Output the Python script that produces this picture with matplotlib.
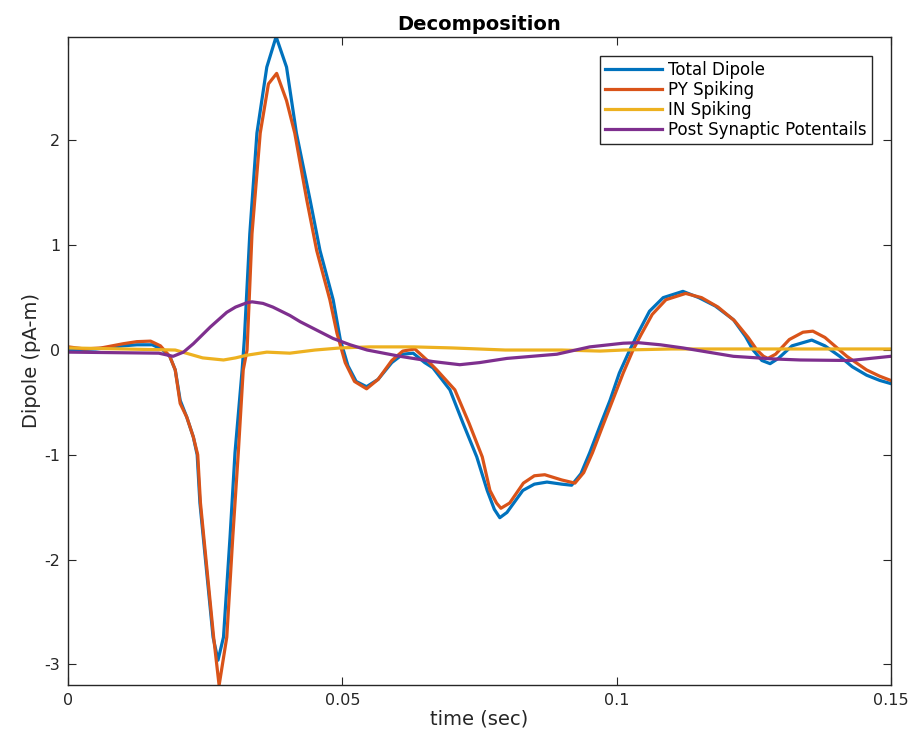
import matplotlib
matplotlib.use('Agg')
import matplotlib.pyplot as plt

# (time in sec, dipole in pA-m)
total_t = [0, 0.005, 0.010, 0.0125, 0.0153, 0.017, 0.0185, 0.0195, 0.0204, 0.0216, 0.0228,
           0.0235, 0.024, 0.0252, 0.0264, 0.0273, 0.0283, 0.0295, 0.0304, 0.0317, 0.0321,
           0.0331, 0.0344, 0.0362, 0.0379, 0.0398, 0.0416, 0.0441, 0.0459, 0.0483, 0.0496,
           0.0510, 0.0525, 0.0544, 0.0565, 0.0590, 0.0610, 0.0629, 0.0650, 0.0665, 0.0696,
           0.0720, 0.0745, 0.0764, 0.0777, 0.0787, 0.0800, 0.0829, 0.0850, 0.0873, 0.0900,
           0.0918, 0.0935, 0.0951, 0.0970, 0.0988, 0.1005, 0.1024, 0.1040, 0.1060, 0.1085,
           0.1121, 0.1150, 0.1180, 0.1213, 0.1235, 0.1249, 0.1265, 0.1280, 0.1295, 0.1320,
           0.1356, 0.1380, 0.1407, 0.1430, 0.1456, 0.1480, 0.150]
total_v = [0.0, 0.01, 0.04, 0.05, 0.05, 0.01, -0.06, -0.19, -0.48, -0.64, -0.83,
           -1.0, -1.46, -2.1, -2.74, -2.96, -2.74, -1.78, -0.98, -0.19, 0.1,
           1.11, 2.07, 2.70, 2.99, 2.70, 2.07, 1.43, 0.95, 0.48, 0.1,
           -0.15, -0.30, -0.35, -0.28, -0.12, -0.04, -0.03, -0.12, -0.17, -0.38,
           -0.70, -1.02, -1.34, -1.52, -1.60, -1.55, -1.34, -1.28, -1.26, -1.28,
           -1.29, -1.18, -0.98, -0.72, -0.48, -0.22, 0.0, 0.17, 0.37, 0.50,
           0.56, 0.50, 0.42, 0.29, 0.13, 0.0, -0.10, -0.13, -0.08, 0.04,
           0.095, 0.04, -0.06, -0.16, -0.24, -0.29, -0.32]

py_t = [0, 0.003, 0.006, 0.010, 0.0125, 0.015, 0.0168, 0.0185, 0.0195, 0.0204, 0.0216,
        0.0228, 0.0236, 0.0241, 0.0253, 0.0265, 0.0275, 0.0289, 0.0300, 0.0310, 0.0319,
        0.0326, 0.0335, 0.035, 0.0365, 0.038, 0.0398, 0.0413, 0.0435, 0.0453, 0.0477,
        0.049, 0.0505, 0.0522, 0.0544, 0.0565, 0.0590, 0.0610, 0.0632, 0.0655, 0.0672,
        0.0705, 0.0731, 0.0755, 0.0769, 0.0781, 0.0789, 0.0805, 0.0830, 0.0850, 0.0869,
        0.0900, 0.0924, 0.0940, 0.0956, 0.0975, 0.0995, 0.1012, 0.1030, 0.1045, 0.1065,
        0.1090, 0.1126, 0.1155, 0.1185, 0.1215, 0.1240, 0.1256, 0.1268, 0.1276, 0.1290,
        0.1315, 0.1340, 0.1358, 0.1380, 0.1420, 0.1456, 0.148, 0.150]
py_v = [0.03, 0.01, 0.02, 0.06, 0.08, 0.085, 0.04, -0.06, -0.19, -0.51, -0.64,
        -0.83, -1.0, -1.46, -2.1, -2.74, -3.2, -2.74, -1.78, -0.98, -0.19,
        0.0, 1.11, 2.07, 2.54, 2.64, 2.38, 2.07, 1.43, 0.95, 0.48,
        0.16, -0.12, -0.30, -0.37, -0.28, -0.10, -0.01, 0.01, -0.10, -0.19,
        -0.38, -0.70, -1.02, -1.34, -1.46, -1.51, -1.46, -1.27, -1.20, -1.19,
        -1.24, -1.27, -1.17, -0.98, -0.72, -0.45, -0.22, 0.0, 0.15, 0.34,
        0.48, 0.54, 0.50, 0.41, 0.28, 0.12, 0.0, -0.06, -0.08, -0.04,
        0.10, 0.17, 0.18, 0.12, -0.06, -0.19, -0.25, -0.29]

in_t = [0, 0.010, 0.0195, 0.0215, 0.0245, 0.0283, 0.0305, 0.0325, 0.0362, 0.0404, 0.0450,
        0.0496, 0.055, 0.063, 0.070, 0.0797, 0.090, 0.097, 0.1012, 0.110, 0.120, 0.130,
        0.140, 0.150]
in_v = [0.02, 0.01, 0.0, -0.03, -0.075, -0.095, -0.075, -0.05, -0.02, -0.03, 0.0,
        0.02, 0.03, 0.03, 0.02, 0.0, 0.0, -0.01, 0.0, 0.01, 0.01, 0.01,
        0.01, 0.01]

psp_t = [0, 0.0165, 0.0191, 0.0210, 0.0228, 0.0259, 0.0289, 0.0305, 0.0325, 0.0335, 0.0355,
         0.0373, 0.0404, 0.0423, 0.0453, 0.0483, 0.0514, 0.0545, 0.0605, 0.0665, 0.0714,
         0.0750, 0.0800, 0.0891, 0.0951, 0.1012, 0.1040, 0.1080, 0.1121, 0.1213, 0.1286,
         0.1335, 0.1426, 0.150]
psp_v = [-0.02, -0.03, -0.06, -0.02, 0.06, 0.22, 0.36, 0.41, 0.45, 0.46, 0.445,
         0.41, 0.33, 0.27, 0.19, 0.11, 0.05, 0.0, -0.06, -0.11, -0.14,
         -0.12, -0.08, -0.04, 0.03, 0.065, 0.07, 0.05, 0.02, -0.06, -0.085,
         -0.095, -0.10, -0.06]

labels = ['Total Dipole', 'PY Spiking', 'IN Spiking', 'Post Synaptic Potentails']
colors = ['#0072BD', '#D95319', '#EDB120', '#7E2F8E']

plt.rcParams['font.family'] = 'DejaVu Sans'
plt.rcParams['axes.unicode_minus'] = False
fig = plt.figure(figsize=(9.16, 7.43), dpi=100)
ax = fig.add_axes([0.0746, 0.078, 0.8978, 0.8726])

ax.plot(total_t, total_v, color=colors[0], lw=2.3, label=labels[0])
ax.plot(py_t, py_v, color=colors[1], lw=2.3, label=labels[1])
ax.plot(in_t, in_v, color=colors[2], lw=2.3, label=labels[2])
ax.plot(psp_t, psp_v, color=colors[3], lw=2.3, label=labels[3])

ax.set_xlim(0, 0.15)
ax.set_ylim(-3.197, 2.99)
ax.set_xticks([0, 0.05, 0.1, 0.15])
ax.set_xticklabels(['0', '0.05', '0.1', '0.15'])
ax.set_yticks([-3, -2, -1, 0, 1, 2])
ax.tick_params(direction='in', top=True, right=True, length=6, width=0.8,
               labelsize=11.5, colors='#262626', pad=6)
for s in ax.spines.values():
    s.set_color('#262626')
    s.set_linewidth(1.0)

ax.set_xlabel('time (sec)', fontsize=14, color='#262626', labelpad=1)
ax.set_ylabel('Dipole (pA-m)', fontsize=14, color='#262626', labelpad=2)
ax.set_title('Decomposition', fontsize=14, fontweight='bold', pad=5)

leg = ax.legend(loc='upper right', bbox_to_anchor=(0.977, 0.970), borderaxespad=0,
                fontsize=12, handlelength=3.4, handletextpad=0.4, labelspacing=0.12,
                fancybox=False, framealpha=1, edgecolor='#262626', borderpad=0.3)
leg.get_frame().set_linewidth(1.0)

plt.savefig('out.png', dpi=100)
